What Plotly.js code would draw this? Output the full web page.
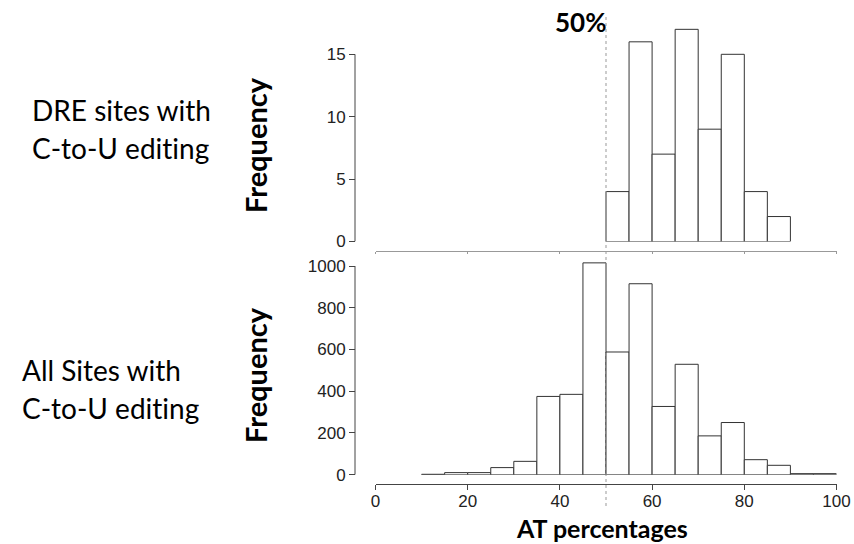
<!DOCTYPE html>
<html>
<head>
<meta charset="utf-8">
<script src="https://cdn.plot.ly/plotly-3.0.1.min.js"></script>
<style>html,body{margin:0;padding:0;background:#fff;}#chart{width:854px;height:544px;}
text{font-variant-ligatures:none;font-feature-settings:"liga" 0;}</style>
</head>
<body>
<div id="chart"></div>
<script>
// Bin starts (AT %) and counts, bin width 5
var binWidth = 5;
var dreBinStarts = [50, 55, 60, 65, 70, 75, 80, 85];
var dreCounts    = [4, 16, 7, 17, 9, 15, 4, 2];
var allBinStarts = [10, 15, 20, 25, 30, 35, 40, 45, 50, 55, 60, 65, 70, 75, 80, 85, 90, 95];
var allCounts    = [2, 10, 10, 34, 64, 375, 385, 1015, 588, 915, 327, 529, 186, 250, 72, 45, 5, 5];
var xTicks = [0, 20, 40, 60, 80, 100];
var dreYTicks = [0, 5, 10, 15];
var allYTicks = [0, 200, 400, 600, 800, 1000];

var W = 854, H = 544;
function px(x){ return x / W; }
function py(y){ return 1 - y / H; }

var barStyle = {color: '#ffffff', line: {color: '#333333', width: 1}};

var traces = [
  {type: 'bar', x: dreBinStarts, y: dreCounts, width: binWidth, offset: 0,
   marker: barStyle, xaxis: 'x2', yaxis: 'y', hoverinfo: 'x+y'},
  {type: 'bar', x: allBinStarts, y: allCounts, width: binWidth, offset: 0,
   marker: barStyle, xaxis: 'x', yaxis: 'y2', hoverinfo: 'x+y'}
];

var tickFont = {family: 'Liberation Sans, Arial, sans-serif', size: 17, color: '#222'};
var xDomain = [px(375.5), px(836.5)];
var yAxisPos = px(355);

var layout = {
  width: W, height: H,
  margin: {l: 0, r: 0, t: 0, b: 0},
  paper_bgcolor: '#fff', plot_bgcolor: 'rgba(0,0,0,0)',
  showlegend: false, bargap: 0,
  font: {family: 'Lato, sans-serif', color: '#000'},
  xaxis: {
    domain: xDomain, range: [0, 100], anchor: 'free', position: py(484.3),
    tickvals: xTicks, ticks: 'outside', ticklen: 5, tickcolor: '#444', tickwidth: 1,
    ticklabelstandoff: -4,
    showline: true, linecolor: '#444', linewidth: 1, showgrid: false, zeroline: false,
    tickfont: tickFont, fixedrange: true
  },
  yaxis2: {
    domain: [py(474.7), py(474.7 - 1050 * 0.2087)], range: [0, 1050],
    anchor: 'free', position: yAxisPos,
    tickvals: allYTicks, ticks: 'outside', ticklen: 6, tickcolor: '#444', tickwidth: 1,
    showline: false, showgrid: false, zeroline: false, tickfont: tickFont, fixedrange: true
  },
  xaxis2: {
    domain: xDomain, range: [0, 100], anchor: 'free', position: py(250.7),
    tickvals: xTicks, ticks: 'outside', ticklen: 2, tickcolor: '#999',
    showticklabels: false, showline: true, linecolor: '#999', linewidth: 1.5,
    showgrid: false, zeroline: false, fixedrange: true
  },
  yaxis: {
    domain: [py(241.5), py(241.5 - 18 * 12.48)], range: [0, 18],
    anchor: 'free', position: yAxisPos,
    tickvals: dreYTicks, ticks: 'outside', ticklen: 6, tickcolor: '#444', tickwidth: 1,
    showline: false, showgrid: false, zeroline: false, tickfont: tickFont, fixedrange: true
  },
  shapes: [
    {type: 'line', xref: 'paper', yref: 'y', x0: yAxisPos, x1: yAxisPos,
     y0: dreYTicks[0], y1: dreYTicks[dreYTicks.length - 1], line: {color: '#444', width: 1}},
    {type: 'line', xref: 'paper', yref: 'y2', x0: yAxisPos, x1: yAxisPos,
     y0: allYTicks[0], y1: allYTicks[allYTicks.length - 1], line: {color: '#444', width: 1}},
    {type: 'line', xref: 'x', yref: 'paper', x0: 50, x1: 50, y0: py(506), y1: py(14),
     line: {color: '#999', width: 1, dash: 'dot'}, layer: 'above'}
  ],
  annotations: [
    {text: '<b>50%</b>', xref: 'paper', yref: 'paper', x: px(580), y: py(22),
     xanchor: 'center', yanchor: 'middle', showarrow: false, font: {size: 26, family: 'Lato, sans-serif'}},
    {text: 'DRE sites with', xref: 'paper', yref: 'paper', x: px(30), y: py(110),
     xanchor: 'left', yanchor: 'middle', showarrow: false, font: {size: 28}},
    {text: 'C-to-U editing', xref: 'paper', yref: 'paper', x: px(30), y: py(148),
     xanchor: 'left', yanchor: 'middle', showarrow: false, font: {size: 28}},
    {text: 'All Sites with', xref: 'paper', yref: 'paper', x: px(20), y: py(370),
     xanchor: 'left', yanchor: 'middle', showarrow: false, font: {size: 28}},
    {text: 'C-to-U editing', xref: 'paper', yref: 'paper', x: px(20), y: py(408),
     xanchor: 'left', yanchor: 'middle', showarrow: false, font: {size: 28}},
    {text: '<b>Frequency</b>', xref: 'paper', yref: 'paper', x: px(255), y: py(145),
     xanchor: 'center', yanchor: 'middle', textangle: -90, showarrow: false, font: {size: 29}},
    {text: '<b>Frequency</b>', xref: 'paper', yref: 'paper', x: px(255), y: py(375),
     xanchor: 'center', yanchor: 'middle', textangle: -90, showarrow: false, font: {size: 29}},
    {text: '<b>AT percentages</b>', xref: 'paper', yref: 'paper', x: px(602), y: 0,
     xanchor: 'center', yanchor: 'bottom', borderpad: 0, showarrow: false, font: {size: 25}}
  ]
};

Plotly.newPlot('chart', traces, layout, {displayModeBar: false, staticPlot: true});
</script>
</body>
</html>
